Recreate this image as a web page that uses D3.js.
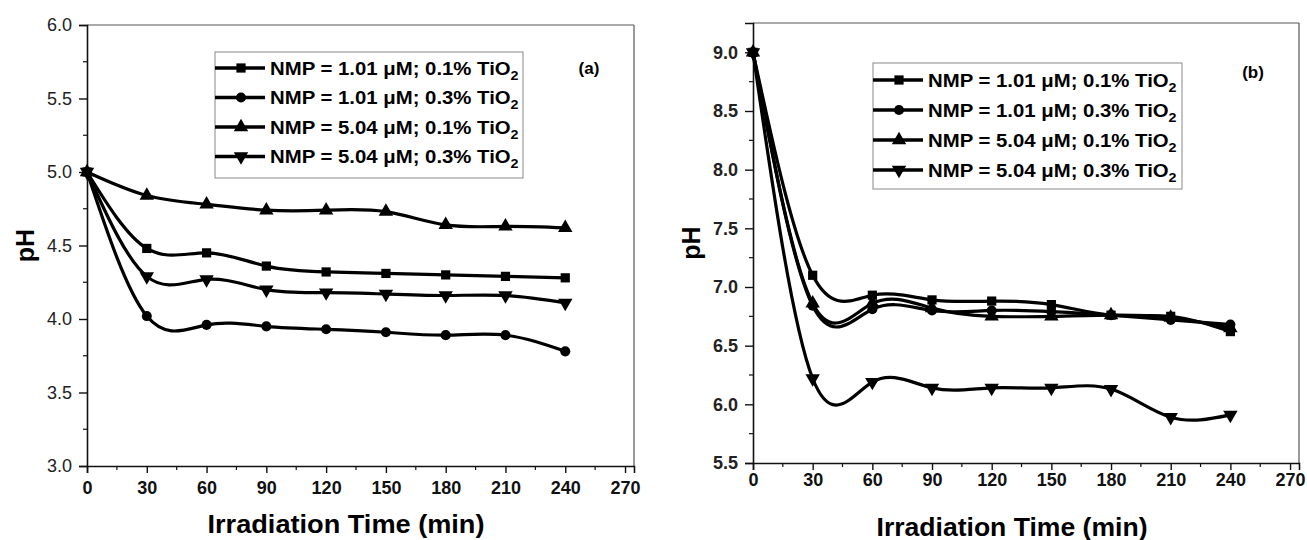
<!DOCTYPE html>
<html>
<head>
<meta charset="utf-8">
<script src="https://cdn.jsdelivr.net/npm/d3@7"></script>
<style>
body{margin:0;background:#fff;}
text{font-family:"Liberation Sans",Arial,sans-serif;}
</style>
</head>
<body>
<svg id="chart" width="1307" height="540"></svg>
<script>
// time points (min)
const times=[0,30,60,90,120,150,180,210,240]
const seriesNames=["NMP = 1.01 μM; 0.1% TiO","NMP = 1.01 μM; 0.3% TiO","NMP = 5.04 μM; 0.1% TiO","NMP = 5.04 μM; 0.3% TiO"]
const markers=["square","circle","up","down"]
const xTicks=[0,30,60,90,120,150,180,210,240,270]

// panel (a) pH values
const a_s1=[5.00,4.48,4.45,4.36,4.32,4.31,4.30,4.29,4.28]
const a_s2=[5.00,4.02,3.96,3.95,3.93,3.91,3.89,3.89,3.78]
const a_s3=[5.00,4.84,4.78,4.74,4.74,4.73,4.64,4.63,4.62]
const a_s4=[5.00,4.29,4.27,4.20,4.18,4.17,4.16,4.16,4.11]
const aTicks=[3.0,3.5,4.0,4.5,5.0,5.5,6.0]

// panel (b) pH values
const b_s1=[9.00,7.10,6.93,6.89,6.88,6.85,6.76,6.75,6.62]
const b_s2=[9.00,6.84,6.81,6.80,6.80,6.79,6.76,6.72,6.68]
const b_s3=[9.00,6.86,6.86,6.82,6.75,6.75,6.76,6.74,6.65]
const b_s4=[9.00,6.22,6.19,6.14,6.14,6.14,6.13,5.89,5.91]
const bTicks=[5.5,6.0,6.5,7.0,7.5,8.0,8.5,9.0]

const svg=d3.select("#chart")

const symbolFor=(m)=>{
	if(m=="square") return d3.symbol().type(d3.symbolSquare).size(85)()
	if(m=="circle") return d3.symbol().type(d3.symbolCircle).size(80)()
	return d3.symbol().type(d3.symbolTriangle).size(90)()
}

//draw one panel
const drawPanel=(p)=>{
	let x=d3.scaleLinear().domain([0,274.5]).range([p.left,p.right])
	let y=d3.scaleLinear().domain(p.yDomain).range([p.bottom,p.top])
	let g=svg.append("g")

	// frame: thin grey top/right
	g.append("line").attr("x1",p.left).attr("x2",p.right).attr("y1",p.top).attr("y2",p.top)
		.style("stroke","#555").style("stroke-width",1.2)
	g.append("line").attr("x1",p.right).attr("x2",p.right).attr("y1",p.top).attr("y2",p.bottom)
		.style("stroke","#555").style("stroke-width",1.2)

	// x axis
	let xMinor=d3.range(15,271,30)
	let xa=g.append("g").attr("transform","translate(0,"+p.bottom+")")
		.call(d3.axisBottom(x).tickValues(xTicks).tickSize(7).tickFormat(d3.format("d")))
	xa.select(".domain").style("stroke","#111").style("stroke-width",1.6)
	xa.selectAll(".tick line").style("stroke","#111").style("stroke-width",1.4)
	xa.selectAll("text").style("font-size","18px").style("font-weight","bold").attr("dy",p.xdy).style("fill","#111")
	xa.selectAll(".minor").data(xMinor).enter().append("line")
		.attr("x1",d=>x(d)).attr("x2",d=>x(d)).attr("y1",0).attr("y2",4)
		.style("stroke","#111").style("stroke-width",1.2)

	// y axis
	let yMinor=p.yTicks.slice(0,-1).map(d=>d+0.25)
	let ya=g.append("g").attr("transform","translate("+p.left+",0)")
		.call(d3.axisLeft(y).tickValues(p.yTicks).tickSize(8).tickFormat(d3.format(".1f")))
	ya.select(".domain").style("stroke","#111").style("stroke-width",1.6)
	ya.selectAll(".tick line").style("stroke","#111").style("stroke-width",1.4)
	ya.selectAll("text").style("font-size","18px").style("font-weight",p.yBold?"bold":"normal")
		.style("fill","#222").attr("x",-15)
	ya.selectAll(".minor").data(yMinor).enter().append("line")
		.attr("x1",-4).attr("x2",0).attr("y1",d=>y(d)).attr("y2",d=>y(d))
		.style("stroke","#111").style("stroke-width",1.2)

	// axis titles
	g.append("text").text("Irradiation Time (min)")
		.attr("x",p.titleX).attr("y",p.titleY)
		.attr("textLength",p.titleW).attr("lengthAdjust","spacingAndGlyphs")
		.attr("text-anchor","middle").style("font-size","25px").style("font-weight","bold")
	g.append("text").text("pH")
		.attr("transform","translate("+(p.left-53)+","+((p.top+p.bottom)/2)+") rotate(-90)")
		.attr("text-anchor","middle").style("font-size","25px").style("font-weight","bold")

	// lines
	let line=d3.line().x((d,i)=>x(times[i])).y(d=>y(d)).curve(d3.curveNatural)
	p.series.forEach((s,k)=>{
		g.append("path").attr("d",line(s)).attr("fill","none")
			.style("stroke","#000").style("stroke-width",3.2)
		g.selectAll(".m"+k).data(s).enter().append("path")
			.attr("d",symbolFor(markers[k]))
			.attr("transform",(d,i)=>"translate("+x(times[i])+","+y(d)+")"+(markers[k]=="down"?" rotate(180)":""))
			.attr("fill","#000")
	})

	// legend
	let lg=g.append("g")
	lg.append("rect").attr("x",p.lx).attr("y",p.ly).attr("width",p.lw).attr("height",p.lh)
		.attr("fill","#fff").style("stroke","#888").style("stroke-width",1)
	seriesNames.forEach((name,k)=>{
		let cy=p.ly+p.rowStart+k*p.rowGap
		lg.append("line").attr("x1",p.lx).attr("x2",p.lx+50).attr("y1",cy).attr("y2",cy)
			.style("stroke","#000").style("stroke-width",3.5)
		lg.append("path").attr("d",symbolFor(markers[k]))
			.attr("transform","translate("+(p.lx+26)+","+cy+")"+(markers[k]=="down"?" rotate(180)":""))
		let t=lg.append("text")
			.attr("transform","translate("+(p.lx+55)+","+(cy+6.5)+") scale(1.1,1)")
			.style("font-size","18.5px").style("font-weight","bold")
		t.append("tspan").text(name)
		t.append("tspan").text("2").attr("dy",5).style("font-size","13px")
	})

	g.append("text").text(p.tag).attr("x",p.tagX).attr("y",p.tagY)
		.attr("text-anchor","middle").style("font-size","17px").style("font-weight","bold")
}

drawPanel({left:87,right:634,top:25,bottom:466,yDomain:[3.0,6.0],yTicks:aTicks,yBold:false,xdy:"1.0em",
	titleX:346,titleY:533,titleW:277,
	series:[a_s1,a_s2,a_s3,a_s4],lx:215,ly:52,lw:308,lh:126,rowStart:16,rowGap:29.5,
	tag:"(a)",tagX:589,tagY:74})
drawPanel({left:753,right:1299,top:23,bottom:463,yDomain:[5.5,9.25],yTicks:bTicks,yBold:true,xdy:"0.71em",
	titleX:1012,titleY:536,titleW:271,
	series:[b_s1,b_s2,b_s3,b_s4],lx:873,ly:63,lw:309,lh:126,rowStart:17,rowGap:30,
	tag:"(b)",tagX:1253,tagY:78})
</script>
</body>
</html>
